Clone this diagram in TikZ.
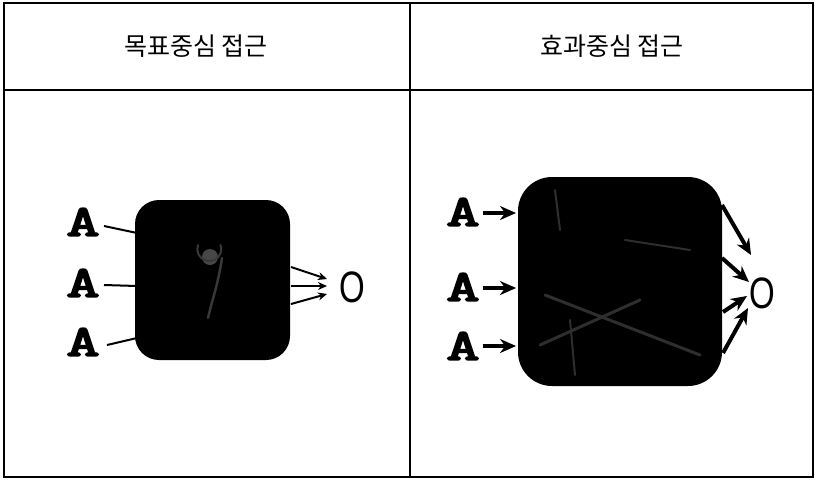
\documentclass[tikz,border=0pt]{standalone}
\usepackage{fontspec}
\newfontfamily\krfont{Noto Sans CJK KR}
\newfontfamily\afont[FakeBold=4]{Latin Modern Mono}
\newfontfamily\ofont{Liberation Sans}
\usetikzlibrary{arrows.meta}
\newcommand{\wideA}{\scalebox{1.45}[1]{A}}
\begin{document}
\begin{tikzpicture}[x=1pt,y=-1pt,
  frame/.style={draw=black,line width=1.6pt},
  head/.style={font=\krfont\fontsize{25}{30}\selectfont},
  ainput/.style={font=\afont\fontsize{44}{44}\selectfont,inner sep=0pt},
  oout/.style={font=\ofont\fontsize{44}{44}\selectfont,inner sep=0pt},
  blackbox/.style={fill=black,rounded corners=#1},
  speck/.style={draw=black!78,line width=#1,line cap=round},
  thin/.style={line width=2pt},
  thinarrow/.style={line width=2pt,-{Stealth[length=9pt,width=8pt]}},
  thickarrow/.style={line width=4pt,-{Stealth[length=16pt,width=14pt]}}
]
\useasboundingbox (0,0) rectangle (816,480);
% table
\draw[frame] (4,3) rectangle (813,477);
\draw[frame] (4,90) -- (813,90);
\draw[frame] (410,3) -- (410,477);
\node[head] (h1) at (196,46) {목표중심 접근};
\node[head] (h2) at (612,46) {효과중심 접근};
% left panel
\fill[blackbox=24pt] (135,200) rectangle (290,360);
\fill[black!72] (210,257) circle (8);
\draw[speck=2pt] (198,245) arc (200:-20:12);
\draw[speck=2.5pt] (222,258) .. controls (218,285) and (212,300) .. (208,318);
\coordinate (lb1) at (137,233);
\coordinate (lb2) at (137,286);
\coordinate (lb3) at (137,338);
\coordinate (lr1) at (291,267);
\coordinate (lr2) at (291,286);
\coordinate (lr3) at (291,304);
\node[ainput] (la1) at (83,222) {\wideA};
\node[ainput] (la2) at (83,283) {\wideA};
\node[ainput] (la3) at (83,342) {\wideA};
\node[oout] (lo) at (352,287) {\scalebox{0.75}[1]{O}};
\draw[thin] (104,226) -- (lb1);
\draw[thin] (104,285) -- (lb2);
\draw[thin] (107,345) -- (lb3);
\draw[thinarrow] (lr1) -- (327,279);
\draw[thinarrow] (lr2) -- (327,286);
\draw[thinarrow] (lr3) -- (327,294);
% right panel
\fill[blackbox=34pt] (518,177) rectangle (722,386);
\draw[speck=3pt,black!82] (545,295) -- (700,355);
\draw[speck=3pt,black!82] (540,345) -- (640,300);
\draw[speck=2pt,black!82] (625,240) -- (690,250);
\draw[speck=2pt,black!82] (555,190) -- (560,230);
\draw[speck=2pt,black!82] (570,320) -- (575,375);
\coordinate (la) at (516,213);
\coordinate (lb) at (516,288);
\coordinate (lc) at (516,346);
\node[ainput] (ra1) at (463,212) {\wideA};
\node[ainput] (ra2) at (463,287) {\wideA};
\node[ainput] (ra3) at (463,346) {\wideA};
\node[oout] (ro) at (762,293) {\scalebox{0.75}[1]{O}};
\draw[thickarrow] (ra1.east) ++(3,1) -- (la);
\draw[thickarrow] (ra2.east) ++(3,1) -- (lb);
\draw[thickarrow] (ra3.east) ++(3,0) -- (lc);
\coordinate (rr1) at (722,205);
\coordinate (rr2) at (722,258);
\coordinate (rr3) at (723,312);
\coordinate (rr4) at (723,353);
\draw[thickarrow] (rr1) -- (751,255);
\draw[thickarrow] (rr2) -- (749,282);
\draw[thickarrow] (rr3) -- (747,296);
\draw[thickarrow] (rr4) -- (748,308);
\end{tikzpicture}
\end{document}
